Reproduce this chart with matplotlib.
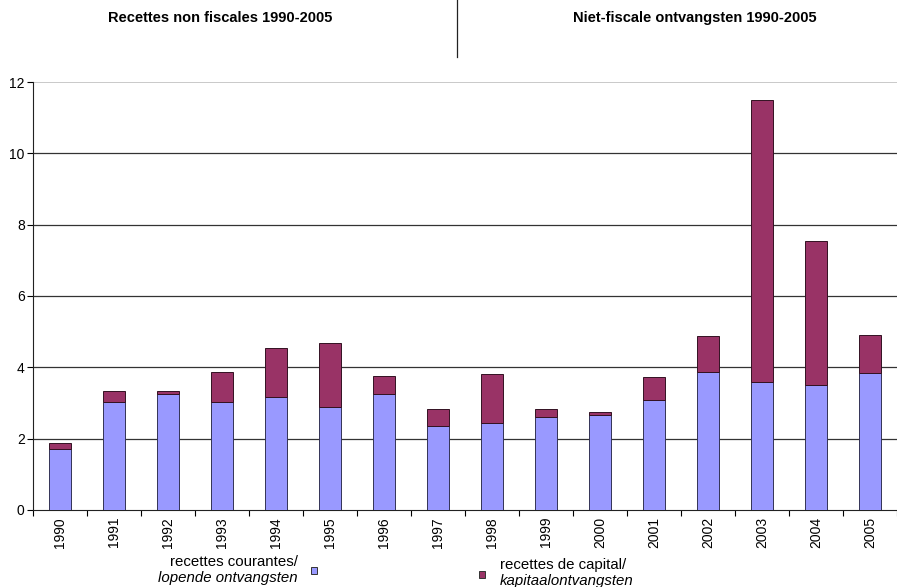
import matplotlib
matplotlib.use("Agg")
import matplotlib.pyplot as plt
from matplotlib.patches import Rectangle
import numpy as np

plt.rcParams['font.family'] = ['Liberation Sans', 'DejaVu Sans']

years = ['1990', '1991', '1992', '1993', '1994', '1995', '1996', '1997',
         '1998', '1999', '2000', '2001', '2002', '2003', '2004', '2005']
# lopende ontvangsten / recettes courantes
courantes = [1.70, 3.03, 3.25, 3.02, 3.16, 2.90, 3.25, 2.35,
             2.43, 2.62, 2.66, 3.08, 3.88, 3.58, 3.50, 3.83]
# kapitaalontvangsten / recettes de capital
capital = [0.17, 0.32, 0.08, 0.86, 1.39, 1.77, 0.50, 0.47,
           1.38, 0.20, 0.08, 0.66, 0.99, 7.91, 4.04, 1.09]

blue = '#9999FF'
plum = '#993366'

fig = plt.figure(figsize=(8.97, 5.87), dpi=100)
ax = fig.add_axes([0.0368, 0.1312, 0.9632, 0.7291])

x = np.arange(len(years))
ax.bar(x, courantes, width=0.41, color=blue, edgecolor='#333355', linewidth=0.7, zorder=3)
ax.bar(x, capital, width=0.41, bottom=courantes, color=plum, edgecolor='#331122',
       linewidth=0.7, zorder=3)

ax.set_xlim(-0.5, len(years) - 0.5)
ax.set_ylim(0, 12)
ax.set_yticks([0, 2, 4, 6, 8, 10, 12])
for v in [2, 4, 6, 8, 10]:
    ax.axhline(v, color='#333333', linewidth=0.9, zorder=1)
ax.axhline(12, color='#c0c0c0', linewidth=1.2, zorder=1)

# ticks sit between categories, labels under each bar
ax.set_xticks(np.arange(len(years) + 1) - 0.5)
ax.set_xticklabels([])
ax.set_xticks(x, minor=True)
ax.set_xticklabels(years, minor=True, rotation=90, fontsize=10)
ax.tick_params(axis='x', which='minor', length=0, pad=5)
ax.tick_params(axis='x', which='major', direction='out', length=4, width=0.8)
ax.tick_params(axis='y', direction='out', length=4, width=0.8, labelsize=10, pad=2)

for s in ['top', 'right']:
    ax.spines[s].set_visible(False)
ax.spines['left'].set_color('#222222')
ax.spines['bottom'].set_color('#222222')

# headers
fig.text(220 / 897, 1 - 18 / 587, 'Recettes non fiscales 1990-2005', ha='center', va='center',
         fontsize=10.5, fontweight='bold')
fig.text(695 / 897, 1 - 18 / 587, 'Niet-fiscale ontvangsten 1990-2005', ha='center', va='center',
         fontsize=10.5, fontweight='bold')
fig.add_artist(plt.Line2D([457 / 897, 457 / 897], [1.0, 1 - 57 / 587], color='#222222', linewidth=0.9))

# legend
fig.text(298 / 897, 1 - 562 / 587, 'recettes courantes/', ha='right', va='center', fontsize=10.8)
fig.text(298 / 897, 1 - 578 / 587, 'lopende ontvangsten', ha='right', va='center', fontsize=10.8,
         style='italic')
fig.add_artist(Rectangle((311 / 897, 1 - 574 / 587), 6 / 897, 7 / 587, facecolor=blue,
                         edgecolor='#333333', linewidth=0.7))
fig.add_artist(Rectangle((479 / 897, 1 - 578 / 587), 6 / 897, 7 / 587, facecolor=plum,
                         edgecolor='#333333', linewidth=0.7))
fig.text(500 / 897, 1 - 565 / 587, 'recettes de capital/', ha='left', va='center', fontsize=10.8)
fig.text(500 / 897, 1 - 581 / 587, 'kapitaalontvangsten', ha='left', va='center', fontsize=10.8,
         style='italic')

fig.savefig('out.png', dpi=100)
